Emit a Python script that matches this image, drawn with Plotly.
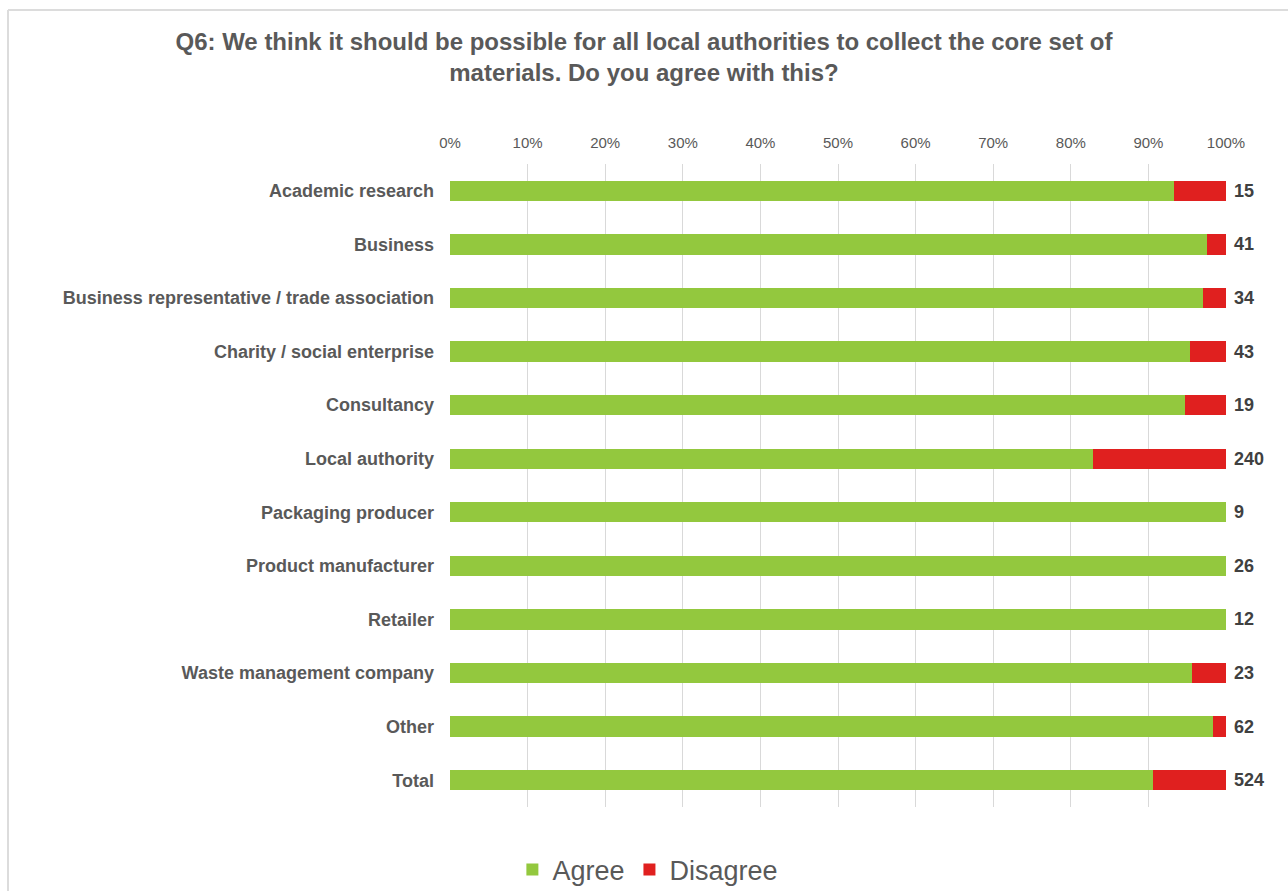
import plotly.graph_objects as go

# Respondent groups and their answers (counts)
categories = [
    "Academic research",
    "Business",
    "Business representative / trade association",
    "Charity / social enterprise",
    "Consultancy",
    "Local authority",
    "Packaging producer",
    "Product manufacturer",
    "Retailer",
    "Waste management company",
    "Other",
    "Total",
]
agree = [14, 40, 33, 41, 18, 199, 9, 26, 12, 22, 61, 475]
disagree = [1, 1, 1, 2, 1, 41, 0, 0, 0, 1, 1, 49]
totals = [a + d for a, d in zip(agree, disagree)]

tick_vals = [0, 10, 20, 30, 40, 50, 60, 70, 80, 90, 100]
tick_text = [f"{v}%" for v in tick_vals]

GREEN = "#93c83e"
RED = "#e0201f"
TEXT = "#595959"
FONT = "Liberation Sans, Arial, sans-serif"

fig = go.Figure()
fig.add_trace(go.Bar(y=categories, x=agree, name="Agree", orientation="h",
                     marker=dict(color=GREEN, line=dict(width=0))))
fig.add_trace(go.Bar(y=categories, x=disagree, name="Disagree", orientation="h",
                     marker=dict(color=RED, line=dict(width=0))))

# Response counts at the right end of each bar
for cat, n in zip(categories, totals):
    fig.add_annotation(x=100, y=cat, xref="x", yref="y", text=f"<b>{n}</b>",
                       showarrow=False, xanchor="left", xshift=6,
                       font=dict(family=FONT, size=18, color="#404040"))

# Light frame along the top and left edges
fig.add_shape(type="line", xref="paper", yref="paper", x0=-0.5696, x1=1.2,
              y0=1.2395, y1=1.2395, line=dict(color="#dcdcdc", width=2))
fig.add_shape(type="line", xref="paper", yref="paper", x0=-0.5696, x1=-0.5696,
              y0=1.2395, y1=-0.2, line=dict(color="#dcdcdc", width=2))

fig.update_layout(
    width=1288, height=891,
    margin=dict(l=450, r=62, t=164, b=84, autoexpand=False),
    paper_bgcolor="white", plot_bgcolor="white",
    barmode="stack", barnorm="percent", bargap=0.62,
    font=dict(family=FONT, color=TEXT),
    title=dict(
        text="<b>Q6: We think it should be possible for all local authorities to collect the core set of<br>materials. Do you agree with this?</b>",
        x=0.5, xref="container", xanchor="center",
        y=1 - 50 / 891, yref="container", yanchor="middle",
        font=dict(family=FONT, size=24, color=TEXT),
    ),
    xaxis=dict(
        side="top", range=[0, 100], tickvals=tick_vals, ticktext=tick_text,
        showgrid=True, gridcolor="#d9d9d9", gridwidth=1, zeroline=False,
        showline=False, ticks="", ticklabelstandoff=12,
        tickfont=dict(family=FONT, size=15, color=TEXT),
    ),
    yaxis=dict(
        autorange="reversed", showgrid=False, showline=False, ticks="",
        ticklabelstandoff=15,
        tickfont=dict(family=FONT, size=18, color=TEXT),
        tickprefix="<b>", ticksuffix="</b>",
    ),
    legend=dict(
        orientation="h", x=0.255, xanchor="center", y=-0.098, yanchor="middle",
        font=dict(family=FONT, size=27, color=TEXT), traceorder="normal",
    ),
    showlegend=True,
)

fig.write_html("out.html")
